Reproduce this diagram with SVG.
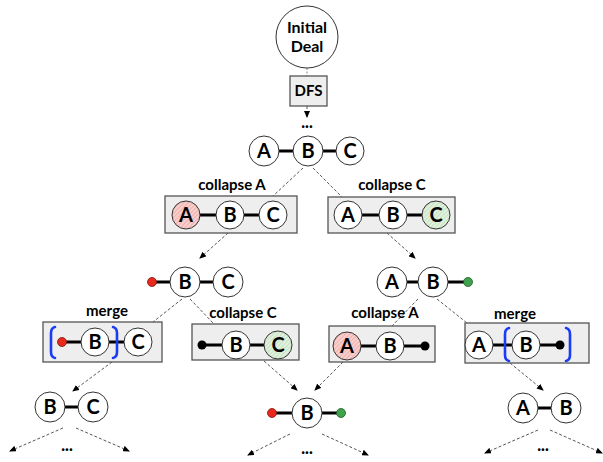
<svg xmlns="http://www.w3.org/2000/svg" width="603" height="462" viewBox="0 0 603 462">
<style>
  .bg{fill:#ffffff}
  .n{fill:#ffffff;stroke:#333333;stroke-width:1}
  .box{fill:#eeeeee;stroke:#555555;stroke-width:1.3}
  .t{font-family:Lato,"Open Sans","Liberation Sans",sans-serif;font-weight:bold;fill:#000000;text-anchor:middle}
  .lt{font-size:20px}
  .lab{font-size:15px}
  .dots{font-size:16px;font-weight:900}
  .bond{stroke:#000000;stroke-width:3}
  .dash{stroke:#444444;stroke-width:0.9;stroke-dasharray:3,2;fill:none}
  .br{stroke:#1a3cf5;stroke-width:2.6;fill:none;stroke-linecap:round}
  .red{fill:#e8291c;stroke:#7a1a12;stroke-width:0.8}
  .grn{fill:#3fa34d;stroke:#1e5a26;stroke-width:0.8}
  .blk{fill:#000000}
</style>
<defs>
  <pattern id="hatchR" width="3" height="3" patternUnits="userSpaceOnUse" patternTransform="rotate(45)">
    <rect width="3" height="3" fill="#f8d0ce"/>
    <line x1="0" y1="0" x2="0" y2="3" stroke="#e98f8b" stroke-width="1"/>
  </pattern>
  <pattern id="hatchG" width="3" height="3" patternUnits="userSpaceOnUse" patternTransform="rotate(45)">
    <rect width="3" height="3" fill="#e1f1de"/>
    <line x1="0" y1="0" x2="0" y2="3" stroke="#a9d3a3" stroke-width="1"/>
  </pattern>
  <marker id="arr" markerWidth="7" markerHeight="6" refX="6" refY="3" orient="auto" markerUnits="userSpaceOnUse">
    <path d="M0,0 L7,3 L0,6 Z" fill="#000000"/>
  </marker>
</defs>
<rect class="bg" x="0" y="0" width="603" height="462"/>

<g id="connectors">
  <line x1="307" y1="68" x2="307" y2="76" stroke="#888888" stroke-width="1" stroke-dasharray="2,1.5"/>
  <line x1="307" y1="106" x2="307" y2="117" class="dash" marker-end="url(#arr)"/>
  <line x1="303" y1="168" x2="273" y2="196" class="dash"/>
  <line x1="313" y1="168" x2="342" y2="197" class="dash"/>
  <line x1="228" y1="233" x2="200" y2="258" class="dash" marker-end="url(#arr)"/>
  <line x1="387" y1="233" x2="415" y2="258" class="dash" marker-end="url(#arr)"/>
  <line x1="182" y1="299" x2="153" y2="322" class="dash"/>
  <line x1="190" y1="299" x2="214" y2="324" class="dash"/>
  <line x1="418" y1="299" x2="392" y2="326" class="dash"/>
  <line x1="437" y1="299" x2="467" y2="323" class="dash"/>
  <line x1="112" y1="362" x2="73" y2="391" class="dash" marker-end="url(#arr)"/>
  <line x1="264" y1="361" x2="297" y2="390" class="dash" marker-end="url(#arr)"/>
  <line x1="343" y1="362" x2="315" y2="390" class="dash" marker-end="url(#arr)"/>
  <line x1="510" y1="363" x2="543" y2="390" class="dash" marker-end="url(#arr)"/>
  <line x1="63" y1="428" x2="10" y2="451" class="dash" marker-end="url(#arr)"/>
  <line x1="76" y1="428" x2="129" y2="451" class="dash" marker-end="url(#arr)"/>
  <line x1="290" y1="434" x2="248" y2="455" class="dash" marker-end="url(#arr)"/>
  <line x1="322" y1="434" x2="368" y2="455" class="dash" marker-end="url(#arr)"/>
  <line x1="538" y1="430" x2="485" y2="453" class="dash" marker-end="url(#arr)"/>
  <line x1="550" y1="430" x2="602" y2="453" class="dash" marker-end="url(#arr)"/>
</g>

<g id="initial">
  <circle class="n" cx="307" cy="37" r="31"/>
  <text class="t" font-size="16" x="307" y="33">Initial</text>
  <text class="t" font-size="16" x="307" y="52">Deal</text>
</g>
<g id="dfs">
  <rect class="box" x="290" y="76" width="37" height="30"/>
  <text class="t" font-size="15" x="308.5" y="96">DFS</text>
  <text class="t dots" x="307" y="128">...</text>
</g>

<g id="top">
  <line class="bond" x1="278" y1="151" x2="294" y2="151"/>
  <line class="bond" x1="322" y1="151" x2="336" y2="151"/>
  <circle class="n" cx="264" cy="151" r="15"/>
  <circle class="n" cx="308" cy="151" r="15"/>
  <circle class="n" cx="350" cy="151" r="14"/>
  <text class="t lt" x="264" y="158">A</text>
  <text class="t lt" x="308" y="158">B</text>
  <text class="t lt" x="350" y="158">C</text>
</g>

<g id="collapseA1">
  <text class="t lab" x="232" y="190">collapse A</text>
  <rect class="box" x="165" y="196" width="132" height="37"/>
  <line class="bond" x1="200" y1="215" x2="216" y2="215"/>
  <line class="bond" x1="244" y1="215" x2="259" y2="215"/>
  <circle class="n" cx="186" cy="215" r="14" style="fill:url(#hatchR)"/>
  <circle class="n" cx="230" cy="215" r="14"/>
  <circle class="n" cx="273" cy="215" r="14"/>
  <text class="t lt" x="186" y="222">A</text>
  <text class="t lt" x="230" y="222">B</text>
  <text class="t lt" x="273" y="222">C</text>
</g>

<g id="collapseC1">
  <text class="t lab" x="392" y="190">collapse C</text>
  <rect class="box" x="328" y="197" width="127" height="36"/>
  <line class="bond" x1="362" y1="215" x2="379" y2="215"/>
  <line class="bond" x1="407" y1="215" x2="422" y2="215"/>
  <circle class="n" cx="348" cy="215" r="14"/>
  <circle class="n" cx="393" cy="215" r="14"/>
  <circle class="n" cx="436" cy="215" r="14" style="fill:url(#hatchG)"/>
  <text class="t lt" x="348" y="222">A</text>
  <text class="t lt" x="393" y="222">B</text>
  <text class="t lt" x="436" y="222">C</text>
</g>

<g id="mid-left">
  <line class="bond" x1="152" y1="282" x2="170" y2="282"/>
  <line class="bond" x1="200" y1="282" x2="213" y2="282"/>
  <circle class="red" cx="152" cy="282" r="4.5"/>
  <circle class="n" cx="185" cy="282" r="15"/>
  <circle class="n" cx="228" cy="282" r="15"/>
  <text class="t lt" x="185" y="289">B</text>
  <text class="t lt" x="228" y="289">C</text>
</g>

<g id="mid-right">
  <line class="bond" x1="407" y1="282" x2="418" y2="282"/>
  <line class="bond" x1="448" y1="282" x2="468" y2="282"/>
  <circle class="grn" cx="468" cy="282" r="4.5"/>
  <circle class="n" cx="392" cy="282" r="15"/>
  <circle class="n" cx="433" cy="282" r="15"/>
  <text class="t lt" x="392" y="289">A</text>
  <text class="t lt" x="433" y="289">B</text>
</g>

<g id="merge1">
  <text class="t lab" x="107" y="316">merge</text>
  <rect class="box" x="43" y="322" width="119" height="40"/>
  <line class="bond" x1="62" y1="342" x2="81" y2="342"/>
  <line class="bond" x1="109" y1="342" x2="124" y2="342"/>
  <circle class="red" cx="62" cy="342" r="4.5"/>
  <circle class="n" cx="95" cy="342" r="14"/>
  <circle class="n" cx="138" cy="342" r="14"/>
  <text class="t lt" x="95" y="349">B</text>
  <text class="t lt" x="138" y="349">C</text>
  <path class="br" d="M55,327 Q51,328 51,333 L51,352 Q51,357 55,358"/>
  <path class="br" d="M113,327 Q117,328 117,333 L117,352 Q117,357 113,358"/>
</g>

<g id="collapseC2">
  <text class="t lab" x="243" y="318">collapse C</text>
  <rect class="box" x="192" y="324" width="107" height="36"/>
  <line class="bond" x1="202" y1="345" x2="222" y2="345"/>
  <line class="bond" x1="250" y1="345" x2="264" y2="345"/>
  <circle class="blk" cx="202" cy="345" r="4.5"/>
  <circle class="n" cx="236" cy="345" r="14"/>
  <circle class="n" cx="278" cy="345" r="14" style="fill:url(#hatchG)"/>
  <text class="t lt" x="236" y="352">B</text>
  <text class="t lt" x="278" y="352">C</text>
</g>

<g id="collapseA2">
  <text class="t lab" x="385" y="318">collapse A</text>
  <rect class="box" x="329" y="326" width="106" height="36"/>
  <line class="bond" x1="361" y1="346" x2="376" y2="346"/>
  <line class="bond" x1="404" y1="346" x2="425" y2="346"/>
  <circle class="n" cx="347" cy="346" r="14" style="fill:url(#hatchR)"/>
  <circle class="n" cx="390" cy="346" r="14"/>
  <circle class="blk" cx="425" cy="346" r="4.5"/>
  <text class="t lt" x="347" y="353">A</text>
  <text class="t lt" x="390" y="353">B</text>
</g>

<g id="merge2">
  <text class="t lab" x="515" y="319">merge</text>
  <rect class="box" x="465" y="323" width="124" height="40"/>
  <line class="bond" x1="493" y1="345" x2="512" y2="345"/>
  <line class="bond" x1="540" y1="345" x2="560" y2="345"/>
  <circle class="n" cx="479" cy="345" r="14"/>
  <circle class="n" cx="526" cy="345" r="14"/>
  <circle class="blk" cx="560" cy="345" r="4.5"/>
  <text class="t lt" x="479" y="352">A</text>
  <text class="t lt" x="526" y="352">B</text>
  <path class="br" d="M509,328 Q505,329 505,334 L505,355 Q505,360 509,361"/>
  <path class="br" d="M566,328 Q570,329 570,334 L570,355 Q570,360 566,361"/>
</g>

<g id="bottom-left">
  <line class="bond" x1="64" y1="407" x2="79" y2="407"/>
  <circle class="n" cx="50" cy="407" r="15"/>
  <circle class="n" cx="93" cy="407" r="15"/>
  <text class="t lt" x="50" y="414">B</text>
  <text class="t lt" x="93" y="414">C</text>
  <text class="t dots" x="67" y="451">...</text>
</g>

<g id="bottom-mid">
  <line class="bond" x1="272" y1="413" x2="292" y2="413"/>
  <line class="bond" x1="322" y1="413" x2="341" y2="413"/>
  <circle class="red" cx="272" cy="413" r="4.5"/>
  <circle class="grn" cx="341" cy="413" r="4.5"/>
  <circle class="n" cx="307" cy="413" r="15"/>
  <text class="t lt" x="307" y="420">B</text>
  <text class="t dots" x="307" y="454">...</text>
</g>

<g id="bottom-right">
  <line class="bond" x1="537" y1="408" x2="552" y2="408"/>
  <circle class="n" cx="523" cy="408" r="15"/>
  <circle class="n" cx="566" cy="408" r="15"/>
  <text class="t lt" x="523" y="415">A</text>
  <text class="t lt" x="566" y="415">B</text>
  <text class="t dots" x="543" y="451">...</text>
</g>
</svg>
